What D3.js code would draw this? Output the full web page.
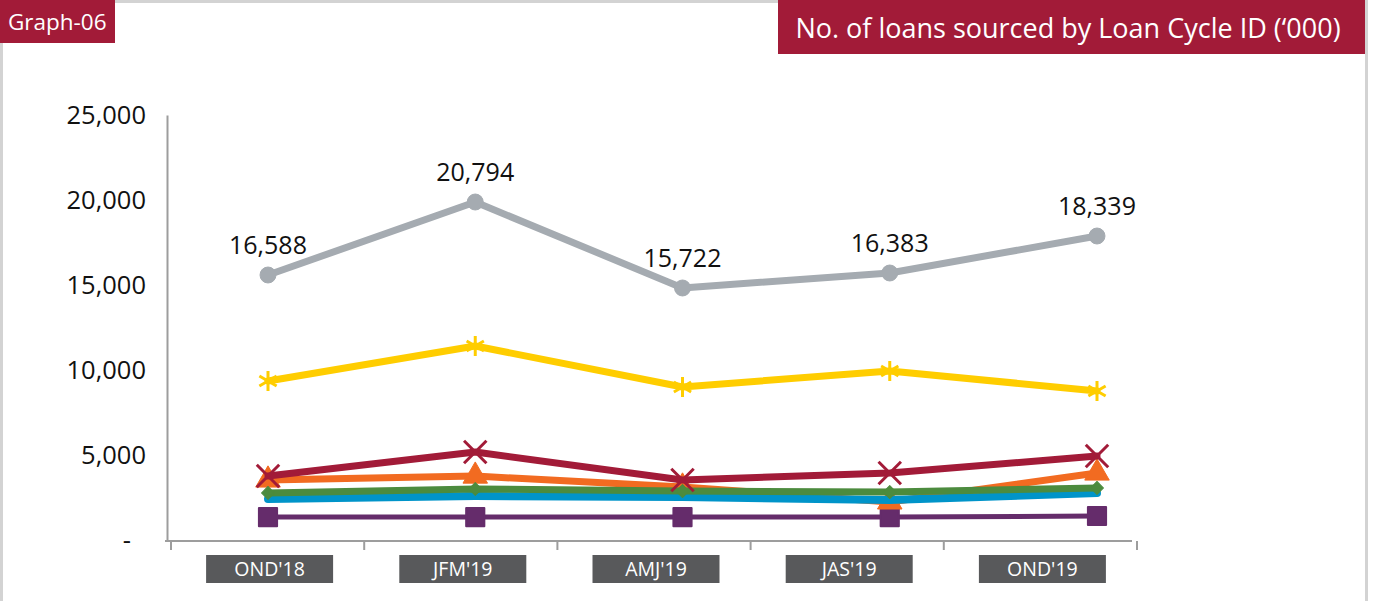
<!DOCTYPE html>
<html>
<head>
<meta charset="utf-8">
<script src="https://cdn.jsdelivr.net/npm/d3@7"></script>
<style>
  html, body { margin: 0; padding: 0; background: #fff; }
  svg, svg text { font-family: 'Open Sans', 'Noto Sans', sans-serif; }
  svg { display: block; }
</style>
</head>
<body>
<div id="chart"></div>
<script>
'use strict';

// categories (quarters)
var quarters = ["OND'18", "JFM'19", "AMJ'19", "JAS'19", "OND'19"];

// series, in '000 (top to bottom)
var greySeries = [15588, 19882, 14824, 15706, 17882];
var greyLabels = ['16,588', '20,794', '15,722', '16,383', '18,339'];
var yellowSeries = [9353, 11412, 9000, 9941, 8765];
var redSeries = [3765, 5176, 3529, 3941, 4941];
var orangeSeries = [3529, 3760, 3120, 2240, 3940];
var greenSeries = [2765, 3000, 2880, 2820, 3060];
var blueSeries = [2410, 2590, 2530, 2350, 2760];
var purpleSeries = [1350, 1350, 1350, 1350, 1410];

var yTicks = [0, 5000, 10000, 15000, 20000, 25000];

var width = 1373;
var height = 601;

var svg = d3.select('#chart')
  .append('svg')
  .attr('width', width)
  .attr('height', height);

// frame
svg.append('rect')
  .attr('x', 1.5)
  .attr('y', 1.5)
  .attr('width', 1365)
  .attr('height', 640)
  .attr('fill', 'none')
  .attr('stroke', '#d3d3d3')
  .attr('stroke-width', 3);

// badge top-left
svg.append('rect')
  .attr('x', 0).attr('y', 0)
  .attr('width', 115).attr('height', 43)
  .attr('fill', '#a21b38');
svg.append('text')
  .attr('x', 8).attr('y', 30)
  .attr('fill', '#fff')
  .attr('font-size', 22.5)
  .text('Graph-06');

// title box
svg.append('rect')
  .attr('x', 778).attr('y', 0)
  .attr('width', 587).attr('height', 54)
  .attr('fill', '#a21b38');
svg.append('text')
  .attr('x', 1068).attr('y', 38)
  .attr('text-anchor', 'middle')
  .attr('fill', '#fff')
  .attr('font-size', 27)
  .text('No. of loans sourced by Loan Cycle ID (\u2018000)');

// scales
var y = d3.scaleLinear()
  .domain([0, 25000])
  .range([540, 115]);

var xBand = d3.scaleBand()
  .domain(quarters)
  .range([171, 1137]);

var x = d3.scalePoint()
  .domain(quarters)
  .range([268, 1097]);

// y axis
var yAxis = svg.append('g')
  .attr('transform', 'translate(167,0)')
  .call(d3.axisLeft(y)
    .tickValues(yTicks)
    .tickSize(0)
    .tickPadding(21)
    .tickFormat(function (d) { return d === 0 ? '-' : d3.format(',')(d); }));
yAxis.attr('font-family', null);
yAxis.select('.domain').attr('stroke', '#9d9d9d').attr('stroke-width', 2);
yAxis.selectAll('text')
  .attr('font-size', 25.5)
  .attr('fill', '#111')
  .attr('dx', function (d) { return d === 0 ? -15 : 0; });

// x axis
var xAxis = svg.append('g')
  .attr('transform', 'translate(0,541)')
  .call(d3.axisBottom(xBand).tickSize(0).tickFormat(''));
xAxis.select('.domain').attr('stroke', '#9d9d9d').attr('stroke-width', 2)
  .attr('d', 'M165,0H1132');
xAxis.selectAll('.tick').remove();

var edges = quarters.map(function (q) { return xBand(q); }).concat([xBand.range()[1]]);
xAxis.selectAll('line.sep')
  .data(edges)
  .enter()
  .append('line')
  .attr('class', 'sep')
  .attr('x1', function (d) { return d; })
  .attr('x2', function (d) { return d; })
  .attr('y1', 0)
  .attr('y2', 9)
  .attr('stroke', '#9d9d9d')
  .attr('stroke-width', 2);

var labelG = svg.append('g')
  .selectAll('g')
  .data(quarters)
  .enter()
  .append('g')
  .attr('transform', function (d) { return 'translate(' + (xBand(d) + xBand.bandwidth() / 2 + 2) + ',555)'; });
labelG.append('rect')
  .attr('x', -63.5).attr('y', 0)
  .attr('width', 127).attr('height', 28)
  .attr('fill', '#58595b');
labelG.append('text')
  .attr('y', 21)
  .attr('text-anchor', 'middle')
  .attr('fill', '#fff')
  .attr('font-size', 19.5)
  .text(function (d) { return d; });

// series
var series = [
  {values: purpleSeries, color: '#652c6b', width: 5, marker: 'square'},
  {values: orangeSeries, color: '#f26b21', width: 7, marker: 'triangle'},
  {values: blueSeries, color: '#0094c9', width: 8, marker: null},
  {values: greenSeries, color: '#4c8b3e', width: 7, marker: 'diamond'},
  {values: redSeries, color: '#a21b38', width: 7, marker: 'times'},
  {values: yellowSeries, color: '#ffcd00', width: 7, marker: 'asterisk'},
  {values: greySeries, color: '#a5abb1', width: 7, marker: 'circle'}
];

var line = d3.line()
  .x(function (d, i) { return x(quarters[i]); })
  .y(function (d) { return y(d); });

var symbols = {
  square: {type: d3.symbolSquare, size: 330, fill: true, rotate: 0},
  triangle: {type: d3.symbolTriangle, size: 260, fill: true, rotate: 0},
  diamond: {type: d3.symbolSquare, size: 85, fill: true, rotate: 45},
  times: {type: d3.symbolTimes, size: 330, fill: false, rotate: 0},
  asterisk: {type: d3.symbolAsterisk, size: 280, fill: false, rotate: 0},
  circle: {type: d3.symbolCircle, size: 200, fill: true, rotate: 0}
};

series.forEach(function (s) {
  var g = svg.append('g');
  g.append('path')
    .datum(s.values)
    .attr('d', line)
    .attr('fill', 'none')
    .attr('stroke', s.color)
    .attr('stroke-width', s.width)
    .attr('stroke-linejoin', 'round')
    .attr('stroke-linecap', 'round');

  if (!s.marker) return;
  var sym = symbols[s.marker];
  g.selectAll('path.marker')
    .data(s.values)
    .enter()
    .append('path')
    .attr('class', 'marker')
    .attr('transform', function (d, i) {
      return 'translate(' + x(quarters[i]) + ',' + y(d) + ')rotate(' + sym.rotate + ')';
    })
    .attr('d', d3.symbol(sym.type, sym.size))
    .attr('fill', sym.fill ? s.color : 'none')
    .attr('stroke', s.color)
    .attr('stroke-width', sym.fill ? (s.marker === 'square' ? 2 : 1) : 3)
    .attr('stroke-linejoin', 'round');
});

// data labels on the grey series
svg.append('g')
  .selectAll('text')
  .data(greySeries)
  .enter()
  .append('text')
  .attr('x', function (d, i) { return x(quarters[i]); })
  .attr('y', function (d) { return y(d) - 21; })
  .attr('text-anchor', 'middle')
  .attr('font-size', 25)
  .attr('fill', '#111')
  .text(function (d, i) { return greyLabels[i]; });
</script>
</body>
</html>
